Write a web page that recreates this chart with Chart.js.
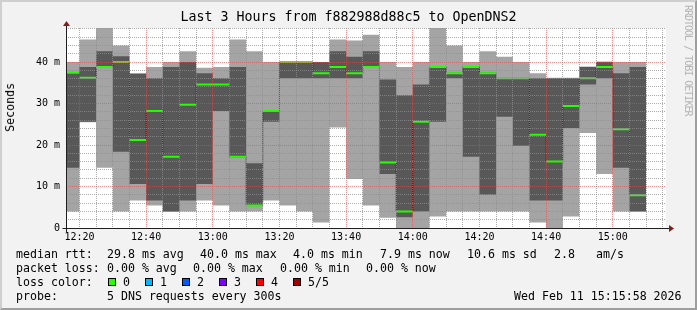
<!DOCTYPE html>
<html>
<head>
<meta charset="utf-8">
<script src="https://cdn.jsdelivr.net/npm/chart.js@4"></script>
<style>
html,body{margin:0;padding:0;background:#f2f2f2;}
#wrap{position:relative;width:697px;height:310px;overflow:hidden;}
#frame{position:absolute;left:0;top:0;width:697px;height:310px;box-sizing:border-box;border-style:solid;border-width:2px;border-color:#cfcfcf #9e9e9e #9e9e9e #cfcfcf;background:#f2f2f2;}
#c{position:absolute;left:0;top:0;}
.t{position:absolute;font-family:'DejaVu Sans Mono',monospace;font-size:11.6px;line-height:14px;color:#000;white-space:pre;}
.sq{position:absolute;width:6px;height:6px;border:1px solid #000;top:278px;}
#ylab{position:absolute;left:3px;top:83px;font-family:'DejaVu Sans Mono',monospace;font-size:11.6px;line-height:14px;writing-mode:vertical-rl;transform:rotate(180deg);white-space:pre;}
#wm{position:absolute;left:683px;top:5px;font-family:'DejaVu Sans Mono',monospace;font-size:10px;letter-spacing:-1px;line-height:10px;writing-mode:vertical-rl;color:#b4b4b4;white-space:pre;}
</style>
</head>
<body>
<div id="wrap">
<div id="frame"></div>
<canvas id="c" width="697" height="310"></canvas>
<div id="ylab">Seconds</div>
<div id="wm">RRDTOOL / TOBI OETIKER</div>

<div class="t" style="left:16px;top:247px">median rtt:</div>
<div class="t" style="left:107px;top:247px">29.8 ms avg</div>
<div class="t" style="left:200px;top:247px">40.0 ms max</div>
<div class="t" style="left:293px;top:247px">4.0 ms min</div>
<div class="t" style="left:380px;top:247px">7.9 ms now</div>
<div class="t" style="left:467px;top:247px">10.6 ms sd</div>
<div class="t" style="left:554px;top:247px">2.8</div>
<div class="t" style="left:596px;top:247px">am/s</div>

<div class="t" style="left:16px;top:261px">packet loss:</div>
<div class="t" style="left:107px;top:261px">0.00 % avg</div>
<div class="t" style="left:193px;top:261px">0.00 % max</div>
<div class="t" style="left:280px;top:261px">0.00 % min</div>
<div class="t" style="left:366px;top:261px">0.00 % now</div>

<div class="t" style="left:16px;top:275px">loss color:</div>
<div class="sq" style="left:108px;background:#26ff00"></div>
<div class="t" style="left:123px;top:275px">0</div>
<div class="sq" style="left:145px;background:#00b8ff"></div>
<div class="t" style="left:160px;top:275px">1</div>
<div class="sq" style="left:182px;background:#0059ff"></div>
<div class="t" style="left:197px;top:275px">2</div>
<div class="sq" style="left:219px;background:#7e00ff"></div>
<div class="t" style="left:234px;top:275px">3</div>
<div class="sq" style="left:256px;background:#ff0000"></div>
<div class="t" style="left:271px;top:275px">4</div>
<div class="sq" style="left:293px;background:#a10000"></div>
<div class="t" style="left:308px;top:275px">5/5</div>

<div class="t" style="left:16px;top:289px">probe:</div>
<div class="t" style="left:107px;top:289px">5 DNS requests every 300s</div>
<div class="t" style="left:514px;top:289px">Wed Feb 11 15:15:58 2026</div>
</div>

<script>
// Column start times, minutes after 12:00 (5-minute RRD steps)
const colStart = [15,20,25,30,35,40,45,50,55,60,65,70,75,80,85,90,95,100,105,110,115,120,125,130,135,140,145,150,155,160,165,170,175,180,185];
const colEnd = 190;
// Sorted ping values per step (ms): lowest, 2nd, median, 4th, highest
const pingMin = [4.0,25.5,14.5,4.0,6.6,5.4,3.9,4.0,6.6,5.4,4.0,4.0,6.6,5.4,4.0,1.3,24.2,11.8,5.4,2.5,0,0,2.8,4.0,4.0,4.0,4.0,4.0,1.3,0,2.8,22.9,13.0,4.0,4.0];
const ping2   = [14.5,25.6,38.6,18.4,10.6,6.6,4.0,6.6,10.6,28.2,17.0,5.3,25.6,36.1,36.1,36.1,36.1,36.1,38.6,13.0,2.6,4.0,25.6,36.1,17.2,8.0,26.8,19.8,6.6,6.6,24.1,34.6,36.1,14.5,4.0];
const median  = [37.4,36.2,38.8,40.0,21.2,28.2,17.2,29.7,34.6,34.6,17.2,5.4,28.2,40.0,40.0,37.3,38.8,37.3,38.8,15.8,4.0,25.6,38.8,37.3,38.8,37.3,36.1,36.1,22.5,16.0,29.4,36.1,38.8,23.8,7.9];
const ping4   = [37.6,38.8,42.6,41.4,37.2,36.1,38.8,40.0,37.3,36.1,38.8,15.6,28.4,40.0,40.0,40.0,42.6,41.3,42.6,35.8,32.0,34.6,38.9,37.4,38.9,37.4,36.2,36.2,36.1,36.1,36.1,38.8,40.0,37.3,38.8];
const pingMax = [40.0,45.4,50.0,44.0,37.3,38.8,40.0,42.6,38.6,38.8,45.4,42.6,40.0,40.0,40.0,40.0,45.4,45.2,46.6,40.0,38.8,40.0,50.0,44.0,40.0,42.6,41.3,40.0,37.3,36.2,36.2,38.9,40.1,40.0,40.0];

const xTickValues = [20,40,60,80,100,120,140,160,180];
const xTickLabels = ['12:20','12:40','13:00','13:20','13:40','14:00','14:20','14:40','15:00'];
const yTickValues = [0,10,20,30,40];
const yTickLabels = ['0','10 m','20 m','30 m','40 m'];

const xMin = 15.97, xMax = 195.97;
const yMin = 0, yMax = 48.2;

function steps(arr){
  const pts = colStart.map((t,i)=>({x:t,y:arr[i]}));
  pts.push({x:colEnd,y:arr[arr.length-1]});
  return pts;
}
function segs(arr){
  const pts = [];
  colStart.forEach((t,i)=>{
    const e = i+1 < colStart.length ? colStart[i+1] : colEnd;
    pts.push({x:t,y:arr[i]},{x:e,y:arr[i]},{x:e,y:null});
  });
  return pts;
}

const MINOR = 'rgba(143,143,143,0.75)';
const MAJOR = 'rgba(222,79,79,0.6)';
const FONT = "'DejaVu Sans Mono', monospace";
const clear = 'rgba(0,0,0,0)';

const bgPlugin = {
  id:'bg',
  beforeDraw(chart){
    const {ctx, chartArea:a} = chart;
    ctx.save(); ctx.fillStyle='#ffffff';
    ctx.fillRect(a.left,a.top,a.right-a.left,a.bottom-a.top);
    ctx.restore();
  }
};
const axisPlugin = {
  id:'axes',
  afterDraw(chart){
    const {ctx, chartArea:a} = chart;
    const x0 = Math.round(a.left)+0.5, y0 = Math.round(a.bottom)+0.5;
    ctx.save();
    ctx.strokeStyle='#1f1f1f'; ctx.lineWidth=1;
    ctx.beginPath();
    ctx.moveTo(x0-4,y0); ctx.lineTo(a.right+4,y0);
    ctx.moveTo(x0,y0+4); ctx.lineTo(x0,a.top-3);
    ctx.stroke();
    ctx.fillStyle='#801f1f';
    ctx.beginPath();
    ctx.moveTo(a.right+3,y0-3.5); ctx.lineTo(a.right+8,y0); ctx.lineTo(a.right+3,y0+3.5); ctx.closePath(); ctx.fill();
    ctx.beginPath();
    ctx.moveTo(x0-3.5,a.top-2); ctx.lineTo(x0,a.top-7); ctx.lineTo(x0+3.5,a.top-2); ctx.closePath(); ctx.fill();
    ctx.restore();
  }
};

const minorX = []; for (let m = 20; m <= 195; m += 5) minorX.push(m);
const minorY = []; for (let v = 0; v <= 48; v += 2) minorY.push(v);

new Chart(document.getElementById('c'), {
  type:'line',
  data:{
    datasets:[
      {data:steps(pingMax), stepped:true, borderColor:clear, borderWidth:1, pointRadius:0, fill:false, order:10},
      {data:steps(pingMin), stepped:true, borderColor:clear, borderWidth:1, pointRadius:0, fill:'-1', backgroundColor:'#a4a4a4', order:9},
      {data:steps(ping4), stepped:true, borderColor:clear, borderWidth:1, pointRadius:0, fill:false, order:8},
      {data:steps(ping2), stepped:true, borderColor:clear, borderWidth:1, pointRadius:0, fill:'-1', backgroundColor:'#585858', order:7},
      {data:steps(median), stepped:true, borderColor:'#202020', borderWidth:1, borderDash:[1,1], pointRadius:0, fill:false, order:2},
      {data:segs(median), borderColor:'#26ff00', borderWidth:2, pointRadius:0, fill:false, spanGaps:false, borderCapStyle:'butt', order:1}
    ]
  },
  options:{
    responsive:false, animation:false, events:[],
    layout:{padding:0},
    plugins:{
      legend:{display:false}, tooltip:{enabled:false},
      title:{display:true, text:'Last 3 Hours from f882988d88c5 to OpenDNS2', color:'#000',
        font:{family:FONT, size:13.3, weight:'normal', lineHeight:'16px'}, padding:{top:10,bottom:2}}
    },
    scales:{
      x:{type:'linear', position:'bottom', min:xMin, max:xMax,
        afterBuildTicks(s){ s.ticks = minorX.map(v=>({value:v})); },
        afterFit(s){ s.height = 82; },
        grid:{z:1, drawTicks:false, lineWidth:1, color:c=> (c.tick && xTickValues.includes(c.tick.value)) ? MAJOR : MINOR},
        border:{display:false, dash:[1,1]},
        ticks:{autoSkip:false, maxRotation:0, minRotation:0, padding:3, color:'#000', font:{family:FONT,size:10},
          callback:(v)=>{ const i = xTickValues.indexOf(v); return i>=0 ? xTickLabels[i] : ''; }}
      },
      y:{type:'linear', position:'left', min:yMin, max:yMax,
        afterBuildTicks(s){ s.ticks = minorY.map(v=>({value:v})); },
        afterFit(s){ s.width = 66; },
        grid:{z:1, drawTicks:false, lineWidth:1, color:c=> (c.tick && yTickValues.includes(c.tick.value)) ? MAJOR : MINOR},
        border:{display:false, dash:[1,1]},
        ticks:{autoSkip:false, padding:6, color:'#000', font:{family:FONT,size:10},
          callback:(v)=>{ const i = yTickValues.indexOf(v); return i>=0 ? yTickLabels[i] : ''; }}
      },
      yR:{type:'linear', position:'right', display:true,
        afterFit(s){ s.width = 31; },
        grid:{display:false}, border:{display:false}, ticks:{display:false}
      }
    }
  },
  plugins:[bgPlugin, axisPlugin]
});
</script>
</body>
</html>
